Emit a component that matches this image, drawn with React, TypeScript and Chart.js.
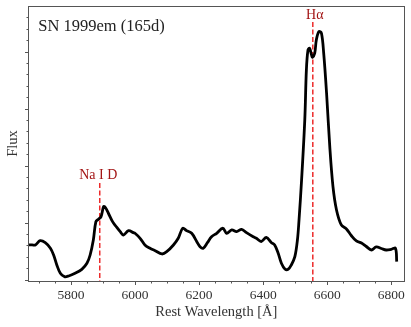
import React, { useEffect, useRef } from "react";
import { Chart, registerables } from "chart.js";

Chart.register(...registerables);

// ---- Data ----
const wavelength = [
  5668, 5679, 5689, 5704, 5720, 5736, 5746, 5756, 5767, 5780, 5793, 5813, 5834, 5850, 5860, 5870, 5878, 5886, 5894,
  5902, 5907, 5917, 5930, 5940, 5954, 5964, 5980, 5995, 6000, 6016, 6031, 6047, 6063, 6084, 6099, 6120, 6135, 6149,
  6161, 6177, 6193, 6203, 6213, 6226, 6239, 6255, 6274, 6286, 6302, 6317, 6333, 6348, 6369, 6379, 6394, 6410, 6426,
  6436, 6447, 6457, 6468, 6478, 6488, 6499, 6507, 6512, 6520, 6530, 6535, 6540, 6545, 6551, 6554, 6561, 6566, 6574,
  6582, 6589, 6598, 6608, 6618, 6629, 6644, 6660, 6675, 6691, 6707, 6722, 6738, 6753, 6769, 6784, 6800, 6813, 6817,
];
const flux = [
  0.609, 0.609, 0.609, 0.684, 0.649, 0.551, 0.433, 0.258, 0.112, 0.053, 0.065, 0.112, 0.182, 0.288, 0.433, 0.696,
  1.018, 1.06, 1.105, 1.281, 1.27, 1.165, 1.018, 0.942, 0.842, 0.784, 0.86, 0.825, 0.814, 0.726, 0.609, 0.551, 0.509,
  0.451, 0.491, 0.609, 0.726, 0.902, 0.86, 0.814, 0.667, 0.579, 0.551, 0.649, 0.754, 0.814, 0.902, 0.814, 0.872,
  0.842, 0.884, 0.825, 0.754, 0.726, 0.67, 0.74, 0.649, 0.609, 0.463, 0.288, 0.188, 0.182, 0.258, 0.404, 0.696,
  1.047, 1.749, 2.802, 3.679, 4.03, 4.06, 3.942, 3.902, 3.972, 4.205, 4.351, 4.323, 3.972, 3.27, 2.333, 1.632, 1.223,
  0.96, 0.889, 0.775, 0.679, 0.644, 0.582, 0.521, 0.574, 0.547, 0.521, 0.533, 0.551, 0.316,
];
const xTickValues = [5800, 6000, 6200, 6400, 6600, 6800];
const xMinorStep = 50;
const yMajorTicks = [0, 1, 2, 3, 4];
const yMinorStep = 0.2;
const lineLabels = ["Na I D", "H\u03b1"];
const lineWavelengths = [5890, 6555];
const titleText = "SN 1999em (165d)";

const X_MIN = 5667;
const X_MAX = 6841;
const Y_MIN = -0.023;
const Y_MAX = 4.8;

const SERIF = "'Liberation Serif', 'Times New Roman', serif";

const axesPlugin = {
  id: "customAxes",
  beforeDatasetsDraw(chart: any) {
    const { ctx, chartArea, scales } = chart;
    const xs = scales.x;
    ctx.save();
    // dashed reference lines
    ctx.strokeStyle = "rgba(235,20,20,0.9)";
    ctx.lineWidth = 1.5;
    ctx.setLineDash([5, 2.5]);
    const lineTops = [183, 22];
    lineWavelengths.forEach((wl, i) => {
      const px = xs.getPixelForValue(wl);
      ctx.beginPath();
      ctx.moveTo(px, lineTops[i]);
      ctx.lineTo(px, chartArea.bottom);
      ctx.stroke();
    });
    ctx.restore();
  },
  afterDatasetsDraw(chart: any) {
    const { ctx, chartArea, scales } = chart;
    const xs = scales.x;
    const ys = scales.y;
    const { left, right, top, bottom } = chartArea;
    ctx.save();
    ctx.strokeStyle = "#555";
    ctx.lineWidth = 1;
    ctx.setLineDash([]);
    ctx.strokeRect(Math.round(left) + 0.5, Math.round(top) + 0.5, Math.round(right - left), Math.round(bottom - top));
    const bx = Math.round(bottom) + 0.5;
    const lx = Math.round(left) + 0.5;
    ctx.beginPath();
    // x minor + major ticks
    for (let v = Math.ceil(X_MIN / xMinorStep) * xMinorStep; v <= X_MAX; v += xMinorStep) {
      const px = Math.round(xs.getPixelForValue(v)) + 0.5;
      const major = xTickValues.includes(v);
      ctx.moveTo(px, bx);
      ctx.lineTo(px, bx + (major ? 3.5 : 2));
    }
    // y ticks
    for (let k = Math.ceil(Y_MIN / yMinorStep); k * yMinorStep <= Y_MAX; k++) {
      const v = k * yMinorStep;
      const py = Math.round(ys.getPixelForValue(v)) + 0.5;
      const major = yMajorTicks.some((t) => Math.abs(t - v) < 1e-6);
      ctx.moveTo(lx, py);
      ctx.lineTo(lx - (major ? 3.5 : 2), py);
    }
    ctx.stroke();

    // line labels
    ctx.fillStyle = "#a31515";
    ctx.textAlign = "center";
    ctx.textBaseline = "alphabetic";
    ctx.font = `14px ${SERIF}`;
    const labelBase = [178.5, 18.5];
    const labelShift = [-1.5, 2];
    lineWavelengths.forEach((wl, i) => {
      const px = xs.getPixelForValue(wl);
      ctx.fillText(lineLabels[i], px + labelShift[i], labelBase[i]);
    });

    // title text
    ctx.fillStyle = "#222";
    ctx.textAlign = "left";
    ctx.font = `16.5px ${SERIF}`;
    ctx.fillText(titleText, left + 10, top + 24.5);
    ctx.restore();
  },
};

export default function App() {
  const ref = useRef<HTMLCanvasElement | null>(null);
  useEffect(() => {
    document.body.style.margin = "0";
    const canvas = ref.current;
    if (!canvas) return;
    const chart = new Chart(canvas, {
      type: "line",
      data: {
        datasets: [
          {
            data: wavelength.map((w, i) => ({ x: w, y: flux[i] })),
            borderColor: "#000",
            borderWidth: 2.8,
            pointRadius: 0,
            tension: 0.35,
            fill: false,
          },
        ],
      },
      options: {
        responsive: false,
        animation: false,
        devicePixelRatio: 1,
        layout: { padding: { left: 0, right: 6, top: 6, bottom: 0 } },
        plugins: { legend: { display: false }, tooltip: { enabled: false }, title: { display: false } },
        scales: {
          x: {
            type: "linear",
            min: X_MIN,
            max: X_MAX,
            grid: { display: false, drawTicks: false },
            border: { display: false },
            afterBuildTicks: (s: any) => {
              s.ticks = xTickValues.map((v) => ({ value: v }));
            },
            afterFit: (s: any) => {
              s.height = 46;
            },
            ticks: {
              padding: 6,
              color: "#333",
              font: { family: SERIF, size: 13.5 },
              maxRotation: 0,
              autoSkip: false,
              callback: (v: any) => String(v),
            },
            title: {
              display: true,
              text: "Rest Wavelength [\u00c5]",
              color: "#333",
              font: { family: SERIF, size: 14.5 },
              padding: { top: 0, bottom: 6 },
            },
          },
          y: {
            type: "linear",
            min: Y_MIN,
            max: Y_MAX,
            grid: { display: false, drawTicks: false },
            border: { display: false },
            ticks: { display: false },
            afterFit: (s: any) => {
              s.width = 28.3;
            },
            title: {
              display: true,
              text: "Flux",
              color: "#333",
              font: { family: SERIF, size: 14.5 },
              padding: { top: 4, bottom: 0 },
            },
          },
        },
      },
      plugins: [axesPlugin],
    });
    return () => chart.destroy();
  }, []);
  return (
    <div style={{ width: 411, height: 327 }}>
      <canvas ref={ref} width={411} height={327} style={{ display: "block" }} />
    </div>
  );
}
